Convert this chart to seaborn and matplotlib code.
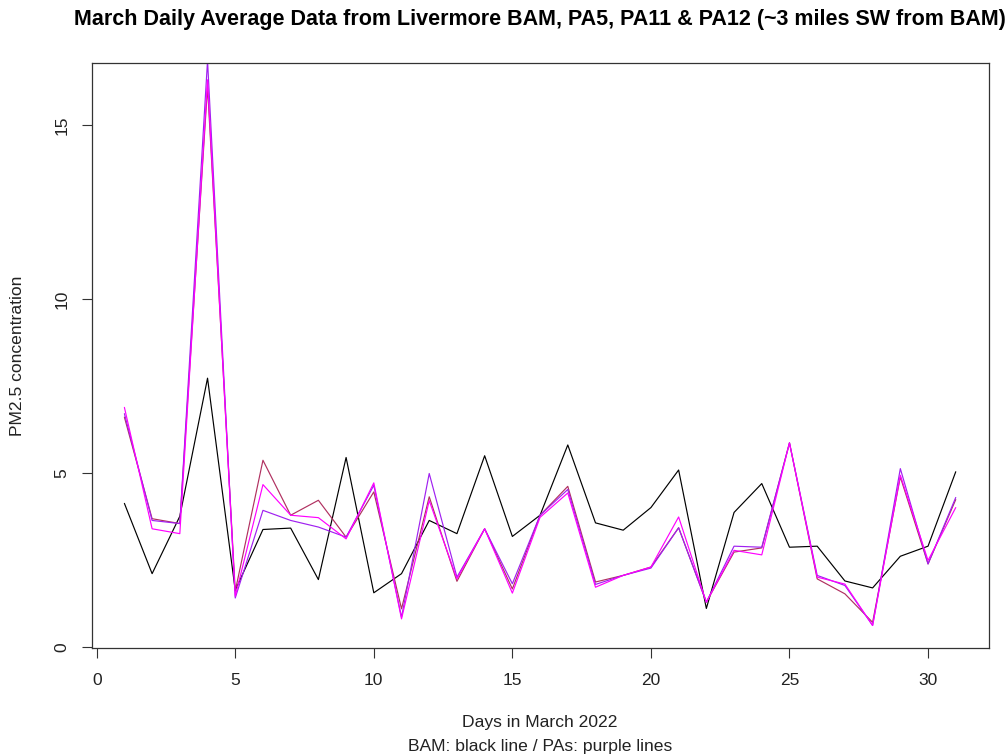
import numpy as np
import pandas as pd
import matplotlib
matplotlib.use("Agg")
import matplotlib.pyplot as plt
import seaborn as sns

days = list(range(1, 32))
bam = [4.12, 2.10, 3.75, 7.72, 1.62, 3.37, 3.41, 1.93, 5.44, 1.55,
       2.10, 3.63, 3.25, 5.49, 3.17, 3.78, 5.80, 3.56, 3.35, 4.00,
       5.08, 1.10, 3.86, 4.69, 2.86, 2.89, 1.89, 1.69, 2.60, 2.89, 5.03]
pa_maroon = [6.60, 3.68, 3.54, 16.10, 1.60, 5.36, 3.78, 4.21, 3.15, 4.45,
             1.09, 4.31, 1.88, 3.39, 1.66, 3.78, 4.61, 1.86, 2.05, 2.29,
             3.42, 1.28, 2.72, 2.84, 5.86, 1.95, 1.52, 0.70, 4.88, 2.38, 4.23]
pa_purple = [6.70, 3.63, 3.54, 16.85, 1.40, 3.92, 3.63, 3.44, 3.15, 4.64,
             0.85, 4.98, 2.00, 3.39, 1.81, 3.78, 4.52, 1.79, 2.05, 2.26,
             3.42, 1.28, 2.89, 2.86, 5.86, 2.05, 1.76, 0.61, 5.12, 2.38, 4.29]
pa_magenta = [6.88, 3.39, 3.25, 16.30, 1.45, 4.66, 3.78, 3.71, 3.10, 4.71,
              0.80, 4.20, 1.95, 3.39, 1.54, 3.72, 4.42, 1.71, 2.05, 2.29,
              3.73, 1.28, 2.77, 2.64, 5.86, 2.00, 1.80, 0.61, 4.93, 2.48, 4.00]

series = {"BAM": bam, "PA12": pa_maroon, "PA5": pa_purple, "PA11": pa_magenta}
colors = {"BAM": "#000000", "PA12": "#B03060", "PA5": "#A020F0", "PA11": "#FF00FF"}

df = pd.concat([pd.DataFrame({"day": days, "value": v, "sensor": k})
                for k, v in series.items()], ignore_index=True)

sns.set_style("white")
plt.rcParams["font.family"] = ["Liberation Sans", "DejaVu Sans"]

W, H = 1008, 756
fig = plt.figure(figsize=(W / 100, H / 100), dpi=100)
ax = fig.add_axes([91.7 / W, 1 - 648.3 / H, (989 - 91.7) / W, (648.3 - 62.7) / H])

sns.lineplot(data=df, x="day", y="value", hue="sensor", palette=colors,
             hue_order=list(series.keys()), linewidth=0.85, legend=False, ax=ax,
             estimator=None, sort=False)

ax.set_xlim(-0.18, 32.2)
ax.set_ylim(-0.046, 16.79)
ax.set_xticks([0, 5, 10, 15, 20, 25, 30])
ax.set_yticks([0, 5, 10, 15])
ax.set_xlabel("")
ax.set_ylabel("")
for s in ax.spines.values():
    s.set_visible(True)
    s.set_color("#333333")
    s.set_linewidth(0.9)
ax.tick_params(axis="both", direction="out", length=7.5, width=0.8,
               color="#333333", labelsize=12.5, labelcolor="#222222",
               bottom=True, left=True)
ax.tick_params(axis="x", pad=10.5)
ax.tick_params(axis="y", pad=8.5)
for lab in ax.get_yticklabels():
    lab.set_rotation(90)
    lab.set_va("center")

fig.text(540 / W, 1 - 20 / H,
         "March Daily Average Data from Livermore BAM, PA5, PA11 & PA12 (~3 miles SW from BAM)",
         ha="center", va="center", fontsize=15.5, fontweight="bold", color="black")
fig.text(540 / W, 1 - 723 / H, "Days in March 2022", ha="center", va="center",
         fontsize=12.6, color="#222222")
fig.text(540 / W, 1 - 747 / H, "BAM: black line / PAs: purple lines", ha="center",
         va="center", fontsize=12.6, color="#222222")
fig.text(18 / W, 1 - 356 / H, "PM2.5 concentration", ha="center", va="center",
         rotation=90, fontsize=12.6, color="#222222")

fig.savefig("out.png", dpi=100)
